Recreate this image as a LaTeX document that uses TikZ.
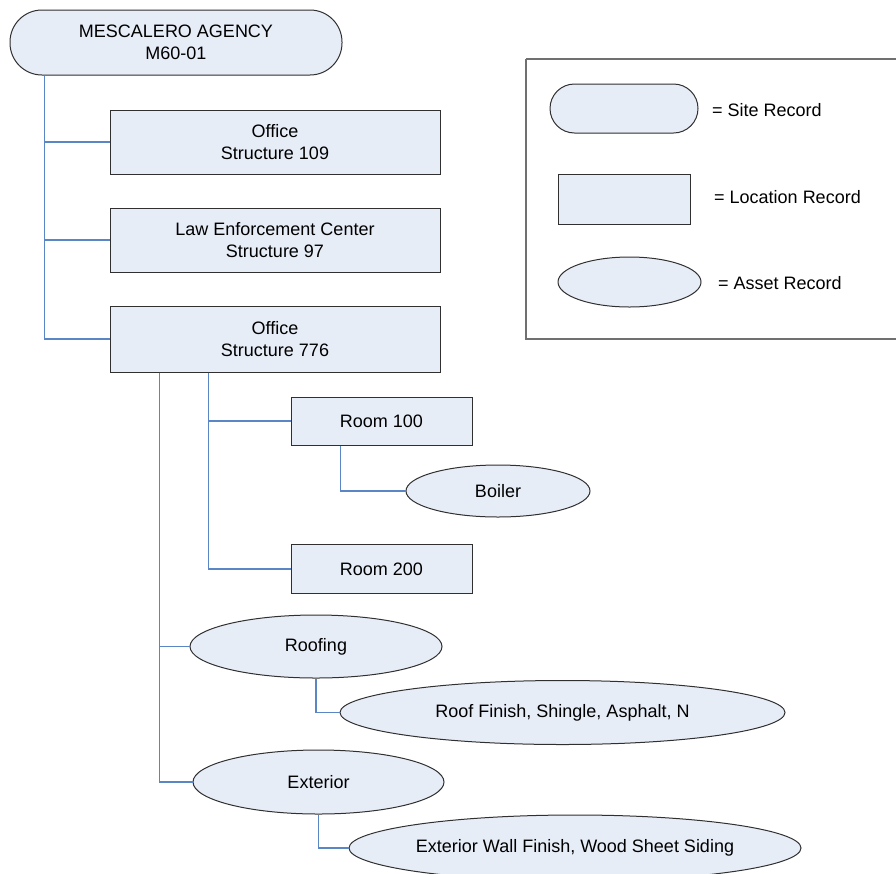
\documentclass[tikz,border=0pt]{standalone}
\usepackage{fontspec}
\setmainfont{Liberation Sans}
\usetikzlibrary{shapes.geometric}
\definecolor{nodefill}{HTML}{E7EDF7}
\definecolor{nodeline}{HTML}{303030}
\definecolor{connblue}{HTML}{5B86C6}
\definecolor{legline}{HTML}{707070}
\tikzset{
  every node/.style={font=\fontsize{18}{21.5}\selectfont, align=center},
  siterec/.style={draw=nodeline, fill=nodefill, line width=1pt, rectangle, rounded corners=#1, inner sep=0pt},
  locrec/.style={draw=nodeline, fill=nodefill, line width=1pt, rectangle, inner sep=0pt},
  assetrec/.style={draw=nodeline, fill=nodefill, line width=1pt, ellipse, inner sep=0pt},
  conn/.style={draw=connblue, line width=1.2pt},
  legtext/.style={anchor=west, inner sep=0pt}
}
\begin{document}
\begin{tikzpicture}[x=1pt,y=-1pt]
\useasboundingbox (0,0) rectangle (896,873);
% legend frame
\draw[draw=legline, line width=1.5pt] (526,59) -- (526,339) -- (902,339) (526,59) -- (902,59);
% site
\node[siterec=32pt, minimum width=332pt, minimum height=65pt] (site) at (176,42.5) {MESCALERO AGENCY\\M60-01};
% locations
\node[locrec, minimum width=330pt, minimum height=64pt] (o109) at (275,142) {Office\\Structure 109};
\node[locrec, minimum width=330pt, minimum height=64pt] (lec) at (275,240) {Law Enforcement Center\\Structure 97};
\node[locrec, minimum width=330pt, minimum height=66pt] (o776) at (275,339) {Office\\Structure 776};
\node[locrec, minimum width=181pt, minimum height=48pt] (r100) at (381.5,421) {Room 100};
\node[locrec, minimum width=181pt, minimum height=49pt] (r200) at (381.5,569) {Room 200};
% assets
\node[assetrec, minimum width=184pt, minimum height=52pt] (boiler) at (498,491) {Boiler};
\node[assetrec, minimum width=252pt, minimum height=63pt] (roof) at (316,646.5) {Roofing};
\node[assetrec, minimum width=445pt, minimum height=64pt] (rf) at (562.5,712.5) {Roof Finish, Shingle, Asphalt, N};
\node[assetrec, minimum width=251pt, minimum height=64pt] (ext) at (318.5,782) {Exterior};
\node[assetrec, minimum width=452pt, minimum height=66pt] (ewf) at (575,848) {Exterior Wall Finish, Wood Sheet Siding};
% connectors
\draw[conn] ([xshift=35pt]site.south west) |- (o109.west);
\draw[conn] ([xshift=35pt]site.south west) |- (lec.west);
\draw[conn] ([xshift=35pt]site.south west) |- (o776.west);
\draw[conn] ([xshift=50pt]o776.south west) |- (roof.west);
\draw[conn] ([xshift=50pt]o776.south west) |- (ext.west);
\draw[conn] ([xshift=99pt]o776.south west) |- (r100.west);
\draw[conn] ([xshift=99pt]o776.south west) |- (r200.west);
\draw[conn] ([xshift=50pt]r100.south west) |- (boiler.west);
\draw[conn] (roof.south) |- (rf.west);
\draw[conn] (ext.south) |- (ewf.west);
% legend entries
\node[siterec=24.5pt, minimum width=148pt, minimum height=49pt] (lsite) at (624,108.5) {};
\node[locrec, minimum width=132pt, minimum height=50pt] (lloc) at (624,199) {};
\node[assetrec, minimum width=143pt, minimum height=50pt] (lasset) at (629.5,282) {};
\node[legtext] (tsite) at (712,110) {= Site Record};
\node[legtext] (tloc) at (714,197) {= Location Record};
\node[legtext] (tasset) at (718,283) {= Asset Record};
\end{tikzpicture}
\end{document}
